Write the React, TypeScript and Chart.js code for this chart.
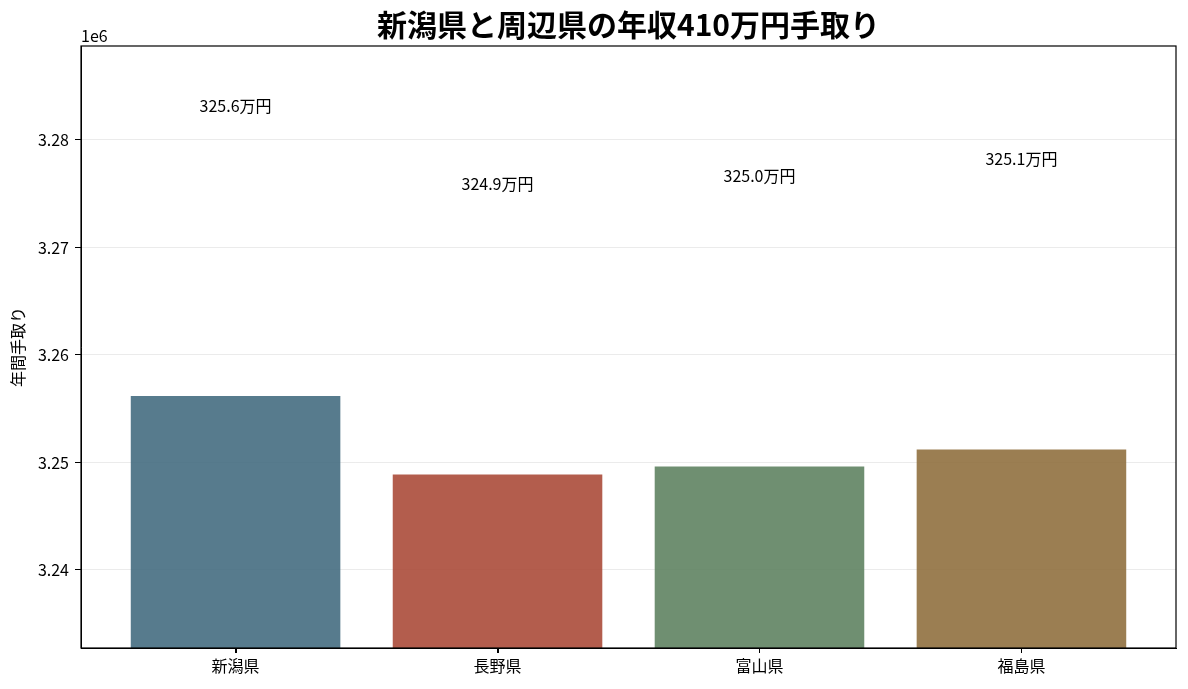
import React, { useEffect, useRef } from "react";
import Chart from "chart.js/auto";

const prefectures: string[] = ["新潟県", "長野県", "富山県", "福島県"];
const takeHome: number[] = [3256186, 3248884, 3249628, 3251209];
const valueLabels: string[] = ["325.6万円", "324.9万円", "325.0万円", "325.1万円"];
const barColors: string[] = [
  "rgba(69,109,129,0.9)",
  "rgba(171,75,58,0.9)",
  "rgba(95,131,98,0.9)",
  "rgba(144,112,63,0.9)",
];
const yTicks: number[] = [3240000, 3250000, 3260000, 3270000, 3280000];

const FONT = "'Noto Sans CJK JP', 'Noto Sans', sans-serif";

const decorations = {
  id: "decorations",
  afterDatasetsDraw(chart: any) {
    const { ctx, chartArea, scales } = chart;
    const x = scales.x;
    const y = scales.y;
    ctx.save();
    // value labels
    ctx.fillStyle = "#000";
    ctx.font = `16px ${FONT}`;
    ctx.textAlign = "center";
    ctx.textBaseline = "middle";
    takeHome.forEach((v, i) => {
      ctx.fillText(valueLabels[i], x.getPixelForValue(i), y.getPixelForValue(v + 27000));
    });
    // frame
    ctx.strokeStyle = "#000";
    ctx.lineWidth = 1.2;
    ctx.strokeRect(chartArea.left, chartArea.top, chartArea.right - chartArea.left, chartArea.bottom - chartArea.top);
    // x tick marks
    ctx.lineWidth = 1;
    prefectures.forEach((_, i) => {
      const px = Math.round(x.getPixelForValue(i)) + 0.5;
      ctx.beginPath();
      ctx.moveTo(px, chartArea.bottom);
      ctx.lineTo(px, chartArea.bottom + 5);
      ctx.stroke();
    });
    // offset text
    ctx.textAlign = "left";
    ctx.textBaseline = "bottom";
    ctx.font = `16px ${FONT}`;
    ctx.fillText("1e6", chartArea.left, chartArea.top - 2);
    // title
    ctx.textAlign = "center";
    ctx.textBaseline = "alphabetic";
    ctx.font = `bold 30px ${FONT}`;
    ctx.fillText("新潟県と周辺県の年収410万円手取り", (chartArea.left + chartArea.right) / 2, 36);
    ctx.restore();
  },
};

export default function App() {
  const canvasRef = useRef<HTMLCanvasElement>(null);

  useEffect(() => {
    if (!canvasRef.current) return;
    const chart = new Chart(canvasRef.current, {
      type: "bar",
      data: {
        datasets: [
          {
            data: takeHome.map((v, i) => ({ x: i, y: v })),
            backgroundColor: barColors,
            categoryPercentage: 0.8,
            barPercentage: 1.0,
            base: 3200000,
          },
        ],
      },
      options: {
        animation: false,
        responsive: false,
        layout: { padding: { top: 46, right: 12, left: 0, bottom: 0 } },
        plugins: {
          legend: { display: false },
          tooltip: { enabled: false },
        },
        scales: {
          x: {
            type: "linear",
            min: -0.59,
            max: 3.59,
            offset: false,
            afterBuildTicks: (s: any) => {
              s.ticks = prefectures.map((_, i) => ({ value: i }));
            },
            afterFit: (s: any) => {
              s.height = 41;
            },
            grid: {
              offset: false,
              drawOnChartArea: false,
              tickColor: "#000",
              tickLength: 5,
            },
            border: { color: "#000" },
            ticks: {
              color: "#000",
              font: { family: FONT, size: 16 },
              padding: 3,
              maxRotation: 0,
              autoSkip: false,
              callback: (v: any) => prefectures[Math.round(Number(v))] ?? "",
            },
          },
          y: {
            min: 3232744,
            max: 3288744,
            afterBuildTicks: (s: any) => {
              s.ticks = yTicks.map((v) => ({ value: v }));
            },
            afterFit: (s: any) => {
              s.width = 81;
            },
            grid: {
              color: "rgba(0,0,0,0.08)",
              tickColor: "#000",
              tickLength: 6,
            },
            border: { color: "#000" },
            title: {
              display: true,
              text: "年間手取り",
              color: "#000",
              font: { family: FONT, size: 16 },
              padding: { top: 8, bottom: 0 },
            },
            ticks: {
              color: "#000",
              font: { family: FONT, size: 16 },
              padding: 6,
              callback: (v: any) => (Number(v) / 1e6).toFixed(2),
            },
          },
        },
      },
      plugins: [decorations],
    });
    return () => {
      chart.destroy();
    };
  }, []);

  return (
    <div style={{ position: "fixed", left: 0, top: 0, width: 1188, height: 689, background: "#fff" }}>
      <canvas ref={canvasRef} width={1188} height={689} />
    </div>
  );
}
